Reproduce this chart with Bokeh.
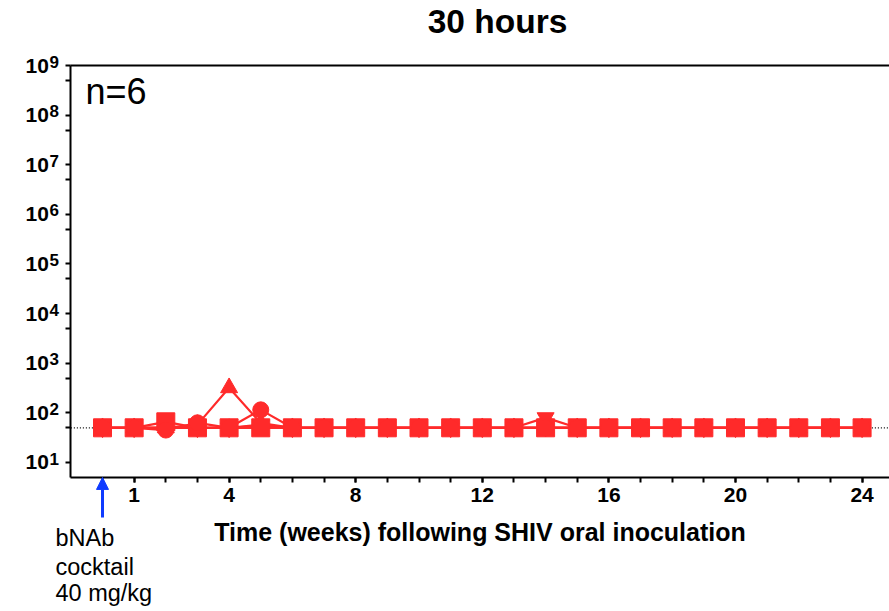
from bokeh.plotting import figure
from bokeh.models import (FixedTicker, LinearAxis, Arrow, NormalHead, Label)
from bokeh.core.properties import value
from bokeh.embed import file_html
from bokeh.resources import INLINE

# ---- data ----
weeks = list(range(0, 25))
animal_circle = [50, 50, 45, 63, 50, 115] + [50] * 19
animal_triangle = [50, 50, 50, 58, 320, 62] + [50] * 19
animal_inv_triangle = [50, 50, 50, 50, 50, 58] + [50] * 8 + [80] + [50] * 10
animal_diamond = [50, 50, 50, 50, 50, 55] + [50] * 19
animal_hex = [50, 50, 50, 50, 50, 52] + [50] * 19
animal_square = [50, 50, 66] + [50] * 22
detection_limit = 50

x_tick_values = [1, 4, 8, 12, 16, 20, 24]
x_minor_ticks = list(range(0, 25))
y_tick_values = [1e1, 1e2, 1e3, 1e4, 1e5, 1e6, 1e7, 1e8, 1e9]
y_tick_base = "10"
y_tick_exponents = ["1", "2", "3", "4", "5", "6", "7", "8", "9"]
y_minor_ticks = [5e1, 5e2, 5e3, 5e4, 5e5, 5e6, 5e7, 5e8]

# axis extents (data units)
axis_x_start, axis_y_start, axis_y_end = -1.0, 5.0, 1e9
view_x = (-3.223, 24.866)
view_y = (10 ** -2.003, 10 ** 10.31)
exponent_x = -1.675
exponent_raise = 10 ** 0.08

RED = "#FF2A2A"
BLUE = "#0F3BFF"
FONT = "Liberation Sans"

p = figure(width=889, height=611, y_axis_type="log",
           x_range=view_x, y_range=view_y,
           output_backend="svg", toolbar_location=None,
           min_border_left=0, min_border_right=0,
           min_border_top=0, min_border_bottom=0)
p.outline_line_color = None
p.xgrid.visible = False
p.ygrid.visible = False
p.background_fill_color = "white"
p.border_fill_color = "white"

# x axis
xa = p.xaxis[0]
xa.fixed_location = axis_y_start
xa.bounds = (axis_x_start, view_x[1])
xa.ticker = FixedTicker(ticks=x_tick_values, minor_ticks=x_minor_ticks)
xa.axis_label = "Time (weeks) following SHIV oral inoculation"
xa.axis_label_text_font = FONT
xa.axis_label_text_font_size = "25px"
xa.axis_label_text_font_style = "bold"
xa.axis_label_text_color = "black"
xa.axis_label_standoff = 12
xa.major_label_text_font = FONT
xa.major_label_text_font_size = "21px"
xa.major_label_text_font_style = "bold"
xa.major_label_standoff = 6

# y axis
ya = p.yaxis[0]
ya.fixed_location = axis_x_start
ya.bounds = (axis_y_start, axis_y_end)
ya.ticker = FixedTicker(ticks=y_tick_values, minor_ticks=y_minor_ticks)
ya.major_label_overrides = {v: y_tick_base for v in y_tick_values}
ya.major_label_text_font = FONT
ya.major_label_text_font_size = "21px"
ya.major_label_text_font_style = "bold"
ya.major_label_standoff = 17

for a in (xa, ya):
    a.axis_line_width = 2
    a.axis_line_color = "black"
    a.major_tick_line_width = 2
    a.minor_tick_line_width = 2
    a.major_tick_line_color = "black"
    a.minor_tick_line_color = "black"
    a.major_tick_in = 0
    a.minor_tick_in = 0
    a.major_tick_out = 5
    a.minor_tick_out = 5
    a.major_label_text_color = "black"

# superscript exponents of the y tick labels
p.text(x=[exponent_x] * len(y_tick_values),
       y=[v * exponent_raise for v in y_tick_values], text=y_tick_exponents,
       text_font=value(FONT), text_font_size="17px", text_font_style="bold",
       text_color="black", text_align="left", text_baseline="middle")

# top border line as an axis with no ticks
top = LinearAxis(ticker=FixedTicker(ticks=[]), axis_line_width=2,
                 axis_line_color="black", fixed_location=axis_y_end,
                 bounds=(axis_x_start, view_x[1]),
                 major_tick_line_color=None, minor_tick_line_color=None,
                 major_label_text_font_size="0px")
p.add_layout(top, "above")

# detection limit (dotted)
p.segment(x0=[axis_x_start], y0=[detection_limit], x1=[view_x[1]], y1=[detection_limit],
          line_color="black", line_dash="1 2", line_width=1.2)

series = [
    (animal_inv_triangle, "inverted_triangle", 17),
    (animal_triangle, "triangle", 17),
    (animal_diamond, "diamond", 18),
    (animal_hex, "hex", 16),
    (animal_square, "square", 18),
    (animal_circle, "circle", 16),
]
for vals, marker, size in series:
    p.line(weeks, vals, line_color=RED, line_width=2.2)
for vals, marker, size in series:
    p.scatter(weeks, vals, marker=marker, size=size,
              fill_color=RED, line_color=RED, line_width=1)

# title
p.add_layout(Label(x=12.48, y=10 ** 9.887, text="30 hours", text_font=FONT,
                   text_font_size="33.5px", text_font_style="bold",
                   text_color="black", text_align="center",
                   text_baseline="alphabetic"))

# n=6
p.add_layout(Label(x=-0.537, y=10 ** 8.476, text="n=6", text_font=FONT,
                   text_font_size="36px", text_color="black",
                   text_baseline="alphabetic", text_align="left"))

# dosing arrow and annotation
p.add_layout(Arrow(x_start=0, y_start=0.78, x_end=0, y_end=axis_y_start,
                   line_color=BLUE, line_width=3,
                   end=NormalHead(size=12, fill_color=BLUE, line_color=BLUE)))
note_lines = ["bNAb", "cocktail", "40 mg/kg"]
note_y = [10 ** -0.531, 10 ** -1.116, 10 ** -1.640]
for txt, yy in zip(note_lines, note_y):
    p.add_layout(Label(x=-1.485, y=yy, text=txt, text_font=FONT,
                       text_font_size="23.5px", text_color="black",
                       text_baseline="alphabetic", text_align="left"))

open("out.html", "w").write(file_html(p, INLINE))
